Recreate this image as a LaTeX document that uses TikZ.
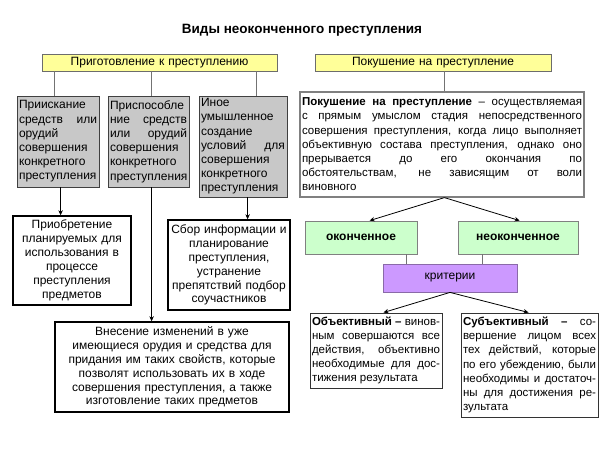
\documentclass[tikz,border=0pt]{standalone}
\usepackage{fontspec}
\setmainfont{Liberation Sans}
\usetikzlibrary{arrows.meta,calc}
\definecolor{ylw}{HTML}{FFFF99}
\definecolor{gry}{HTML}{C8C8C8}
\definecolor{grn}{HTML}{CCFFCC}
\definecolor{vio}{HTML}{CC99FF}
\definecolor{vioedge}{HTML}{8A6AA8}
\tolerance=9999 \hbadness=10000 \hfuzz=20pt \hyphenpenalty=10000
\newcommand\bx[7]{%
  \pgfmathsetmacro\bw{#4-#2}\pgfmathsetmacro\bh{#5-#3}%
  \pgfmathsetmacro\bcx{(#2+#4)/2}\pgfmathsetmacro\bcy{(#3+#5)/2}%
  \pgfmathsetmacro\btw{#4-#2-4}%
  \node[#6, inner xsep=2pt, inner ysep=1pt, minimum width=\bw pt, minimum height=\bh pt, text width=\btw pt] (#1) at (\bcx,\bcy) {#7};}
\begin{document}
\begin{tikzpicture}[x=1pt,y=-1pt,
  font=\fontsize{11.5}{14.2}\selectfont,
  ybox/.style={draw=gray!85!black, fill=ylw, line width=0.8pt, align=center, font=\fontsize{12}{14}\selectfont},
  gbox/.style={draw=black!75, fill=gry, line width=0.8pt, align=justify, font=\fontsize{12}{14.2}\selectfont},
  wbox/.style={draw=black, line width=1.5pt, align=center, font=\fontsize{12}{13.9}\selectfont},
  dbox/.style={draw=gray, line width=1.2pt, align=justify},
  tbox/.style={draw=black!80, line width=1pt, align=justify},
  grbox/.style={draw=gray, fill=grn, line width=0.8pt, align=center, font=\fontsize{12}{14}\selectfont\bfseries},
  vbox/.style={draw=vioedge, fill=vio, line width=0.8pt, align=center, font=\fontsize{12}{14}\selectfont},
  link/.style={draw=gray!90!black, line width=0.8pt},
  arr/.style={draw=black, line width=0.8pt, -{Stealth[length=5pt,width=4.5pt]}}]
\useasboundingbox[fill=white] (0,0) rectangle (604,449);

\node[font=\fontsize{13.5}{16}\selectfont\bfseries] (title) at (302,30) {Виды неоконченного преступления};

\bx{y1}{42}{54}{277}{71}{ybox}{Приготовление к преступлению}
\bx{y2}{315}{54}{551}{71}{ybox}{Покушение на преступление}

\bx{ga}{17}{96}{99}{187}{gbox}{Приискание\linebreak средств или\linebreak орудий\linebreak совершения\linebreak конкретного\linebreak преступления}
\bx{gb}{108}{96}{189}{187}{gbox}{Приспособле\linebreak ние средств\linebreak или орудий\linebreak совершения\linebreak конкретного\linebreak преступления}
\bx{gc}{199}{96}{287}{197}{gbox}{Иное\linebreak умышленное\linebreak создание\linebreak условий для\linebreak совершения\linebreak конкретного\linebreak преступления}

\bx{def}{300}{92}{584}{197}{dbox}{\textbf{Покушение на преступление} – осуществляемая\linebreak с прямым умыслом стадия непосредственного\linebreak совершения преступления, когда лицо выполняет\linebreak объективную состава преступления, однако оно\linebreak прерывается до его окончания по\linebreak обстоятельствам, не зависящим от воли\linebreak виновного}

\bx{acq}{13}{216}{131}{305}{wbox}{Приобретение\\ планируемых для\\ использования в\\ процессе\\ преступления\\ предметов}
\bx{col}{168}{220}{290}{310}{wbox}{Сбор информации и\\ планирование\\ преступления,\\ устранение\\ препятствий подбор\\ соучастников}
\bx{mod}{55}{322}{289}{412}{wbox}{Внесение изменений в уже\\ имеющиеся орудия и средства для\\ придания им таких свойств, которые\\ позволят использовать их в ходе\\ совершения преступления, а также\\ изготовление таких предметов}

\bx{fin}{305}{221}{417}{254}{grbox}{оконченное}
\bx{unf}{458}{221}{578}{254}{grbox}{неоконченное}
\bx{crit}{383}{264}{517}{292}{vbox}{критерии}

\bx{obj}{310}{313}{442}{388}{tbox}{\textbf{Объективный –} винов-\linebreak ным совершаются все\linebreak действия, объективно\linebreak необходимые для дос-\linebreak тижения результата}
\bx{subj}{461}{313}{598}{417}{tbox}{\textbf{Субъективный –} со-\linebreak вершение лицом всех\linebreak тех действий, которые\linebreak по его убеждению, были\linebreak необходимы и достаточ-\linebreak ны для достижения ре-\linebreak зультата}

% links from yellow boxes
\draw[link] ([xshift=38pt]ga.north west) -- ([xshift=38pt]ga.north west |- y1.south);
\draw[link] ([xshift=44pt]gb.north west) -- ([xshift=44pt]gb.north west |- y1.south);
\draw[link] ([xshift=58pt]gc.north west) -- ([xshift=58pt]gc.north west |- y1.south);
\draw[link] ([xshift=145pt]def.north west) -- ([xshift=145pt]def.north west |- y2.south);

% arrows on the left
\draw[arr] ([xshift=44pt]ga.south west) -- ([xshift=44pt]ga.south west |- acq.north);
\draw[arr] ([xshift=44pt]gb.south west) -- ([xshift=44pt]gb.south west |- mod.north);
\draw[arr] ([xshift=49pt]gc.south west) -- ([xshift=49pt]gc.south west |- col.north);

% arrows on the right
\coordinate (defb) at ([xshift=145pt]def.south west);
\draw[arr] (defb) -- ([xshift=65pt]fin.north west);
\draw[arr] (defb) -- ([xshift=62pt]unf.north west);
\draw[link] ([xshift=24pt]crit.north west) -- ([xshift=24pt]crit.north west |- fin.south);
\draw[link] ([xshift=100pt]crit.north west) -- ([xshift=100pt]crit.north west |- unf.south);
\draw[arr] (crit.south) -- ([xshift=74pt]obj.north west);
\draw[arr] (crit.south) -- ([xshift=68pt]subj.north west);
\end{tikzpicture}
\end{document}
